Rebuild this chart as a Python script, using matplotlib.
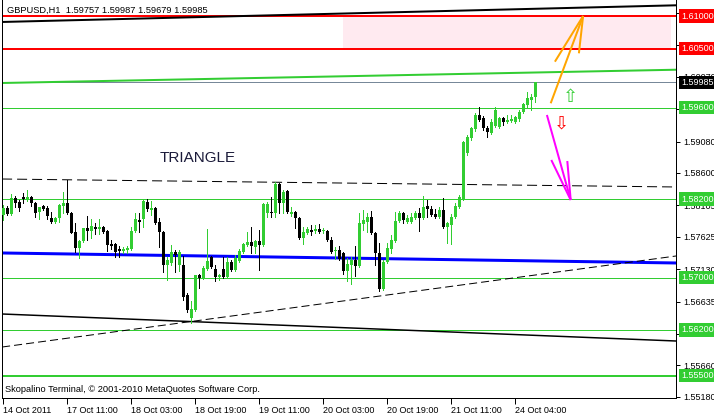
import matplotlib
matplotlib.use("Agg")  # no display in the sandbox

import matplotlib.pyplot as plt
from matplotlib.transforms import blended_transform_factory
import numpy as np

plt.rcParams["font.family"] = ["Liberation Sans", "DejaVu Sans"]
plt.rcParams["lines.scale_dashes"] = False

# GBPUSD H1 candles, oldest first (bar 0 = 14 Oct 2011 19:00)
opens = [
    1.57958, 1.58065, 1.57973, 1.58218, 1.58156, 1.58233, 1.58187, 1.58233, 1.58141, 1.58004,
    1.58095, 1.58065, 1.57912, 1.57851, 1.57912, 1.58095, 1.58141, 1.57988, 1.57698, 1.57453,
    1.57560, 1.57759, 1.57713, 1.57774, 1.57744, 1.57774, 1.57713, 1.57514, 1.57514, 1.57438,
    1.57407, 1.57423, 1.57438, 1.57713, 1.57881, 1.57896, 1.58156, 1.58034, 1.58065, 1.57851,
    1.57698, 1.57193, 1.57224, 1.57392, 1.57193, 1.57193, 1.56734, 1.56383, 1.56505, 1.57040,
    1.56994, 1.57132, 1.57315, 1.57132, 1.57010, 1.57132, 1.57010, 1.57239, 1.57117, 1.57254,
    1.57392, 1.57499, 1.57545, 1.57468, 1.57560, 1.57499, 1.57988, 1.58004, 1.57988, 1.58432,
    1.58141, 1.58325, 1.57973, 1.58004, 1.57912, 1.57606, 1.57682, 1.57728, 1.57713, 1.57744,
    1.57713, 1.57713, 1.57575, 1.57407, 1.57423, 1.57377, 1.57101, 1.57193, 1.57270, 1.57178,
    1.57820, 1.57851, 1.57927, 1.57682, 1.57377, 1.56826, 1.57239, 1.57438, 1.57560, 1.57866,
    1.57988, 1.57851, 1.57851, 1.57912, 1.57988, 1.57912, 1.58095, 1.58049, 1.57973, 1.57927,
    1.58034, 1.57774, 1.57805, 1.57927, 1.58080, 1.58202, 1.58906, 1.59135, 1.59273, 1.59487,
    1.59441, 1.59288, 1.59211, 1.59318, 1.59303, 1.59441, 1.59380, 1.59395, 1.59380, 1.59425,
    1.59533, 1.59640, 1.59716, 1.59757,
]
highs = [
    1.58111, 1.58095, 1.58279, 1.58248, 1.58187, 1.58294, 1.58340, 1.58248, 1.58156, 1.58080,
    1.58111, 1.58095, 1.58004, 1.57927, 1.58126, 1.58309, 1.58493, 1.58004, 1.57835, 1.57575,
    1.57759, 1.57942, 1.57896, 1.57835, 1.57896, 1.57789, 1.57728, 1.57575, 1.57530, 1.57484,
    1.57468, 1.57484, 1.57774, 1.57988, 1.57988, 1.58202, 1.58202, 1.58172, 1.58080, 1.57912,
    1.57713, 1.57315, 1.57499, 1.57423, 1.57423, 1.57331, 1.56765, 1.56643, 1.57040, 1.57056,
    1.57178, 1.57744, 1.57331, 1.57193, 1.57056, 1.57315, 1.57315, 1.57270, 1.57346, 1.57438,
    1.57530, 1.57698, 1.57774, 1.57575, 1.57728, 1.58141, 1.58156, 1.58233, 1.58462, 1.58447,
    1.58340, 1.58340, 1.58080, 1.58019, 1.57927, 1.57774, 1.57774, 1.57805, 1.57805, 1.57820,
    1.57759, 1.57728, 1.57621, 1.57468, 1.57484, 1.57392, 1.57300, 1.57315, 1.57484, 1.57988,
    1.58034, 1.57988, 1.58019, 1.57698, 1.57530, 1.57270, 1.57530, 1.57652, 1.58004, 1.58019,
    1.58004, 1.57958, 1.57988, 1.58019, 1.58065, 1.58248, 1.58187, 1.58095, 1.58049, 1.58080,
    1.58218, 1.57851, 1.57973, 1.58141, 1.58263, 1.59089, 1.59181, 1.59303, 1.59517, 1.59609,
    1.59471, 1.59318, 1.59425, 1.59609, 1.59456, 1.59456, 1.59487, 1.59487, 1.59471, 1.59563,
    1.59670, 1.59838, 1.59808, 1.59987,
]
lows = [
    1.57881, 1.57958, 1.57958, 1.58080, 1.58019, 1.58141, 1.58172, 1.58095, 1.57927, 1.57896,
    1.58034, 1.57896, 1.57835, 1.57835, 1.57851, 1.57988, 1.57973, 1.57682, 1.57392, 1.57300,
    1.57545, 1.57575, 1.57606, 1.57667, 1.57667, 1.57682, 1.57407, 1.57438, 1.57315, 1.57315,
    1.57377, 1.57377, 1.57423, 1.57698, 1.57698, 1.57774, 1.58019, 1.57958, 1.57820, 1.57468,
    1.57086, 1.56964, 1.57193, 1.57086, 1.57101, 1.56658, 1.56475, 1.56306, 1.56490, 1.56841,
    1.56979, 1.57117, 1.57147, 1.56949, 1.56964, 1.56994, 1.56994, 1.57101, 1.57101, 1.57239,
    1.57377, 1.57484, 1.57377, 1.57377, 1.57117, 1.57484, 1.57927, 1.57927, 1.57927, 1.57988,
    1.57988, 1.57988, 1.57942, 1.57759, 1.57591, 1.57514, 1.57667, 1.57652, 1.57682, 1.57682,
    1.57682, 1.57560, 1.57377, 1.57285, 1.57270, 1.57056, 1.56949, 1.56903, 1.57025, 1.57163,
    1.57728, 1.57698, 1.57667, 1.57193, 1.56796, 1.56811, 1.57224, 1.57377, 1.57545, 1.57851,
    1.57835, 1.57835, 1.57835, 1.57896, 1.57713, 1.57896, 1.57927, 1.57942, 1.57912, 1.57912,
    1.57759, 1.57530, 1.57514, 1.57912, 1.58065, 1.58187, 1.58875, 1.59104, 1.59242, 1.59395,
    1.59257, 1.59150, 1.59196, 1.59303, 1.59288, 1.59334, 1.59364, 1.59380, 1.59364, 1.59395,
    1.59517, 1.59609, 1.59563, 1.59679,
]
closes = [
    1.58065, 1.57973, 1.58218, 1.58141, 1.58065, 1.58202, 1.58233, 1.58141, 1.57988, 1.58080,
    1.58049, 1.57942, 1.57851, 1.57912, 1.58111, 1.58141, 1.57988, 1.57690, 1.57453, 1.57560,
    1.57759, 1.57713, 1.57789, 1.57744, 1.57774, 1.57698, 1.57499, 1.57484, 1.57392, 1.57407,
    1.57438, 1.57453, 1.57713, 1.57896, 1.57851, 1.58172, 1.58049, 1.58065, 1.57835, 1.57698,
    1.57193, 1.57270, 1.57392, 1.57346, 1.57392, 1.56704, 1.56505, 1.56520, 1.57040, 1.56994,
    1.57147, 1.57254, 1.57163, 1.57010, 1.57040, 1.57010, 1.57239, 1.57117, 1.57300, 1.57407,
    1.57514, 1.57545, 1.57484, 1.57560, 1.57499, 1.58126, 1.58126, 1.57988, 1.58432, 1.58141,
    1.58309, 1.58004, 1.58004, 1.57912, 1.57606, 1.57698, 1.57744, 1.57698, 1.57744, 1.57698,
    1.57720, 1.57575, 1.57392, 1.57423, 1.57285, 1.57101, 1.57208, 1.57270, 1.57178, 1.57835,
    1.57881, 1.57927, 1.57682, 1.57377, 1.56826, 1.57239, 1.57453, 1.57575, 1.57866, 1.57988,
    1.57881, 1.57912, 1.57927, 1.57988, 1.57912, 1.58080, 1.58049, 1.57958, 1.57927, 1.58034,
    1.57774, 1.57835, 1.57927, 1.58095, 1.58233, 1.59074, 1.59150, 1.59288, 1.59487, 1.59410,
    1.59288, 1.59227, 1.59380, 1.59563, 1.59441, 1.59380, 1.59410, 1.59425, 1.59456, 1.59533,
    1.59655, 1.59747, 1.59762, 1.59985,
]

# time axis labels (every 16 bars)
date_ticks = [0, 16, 32, 48, 64, 80, 96, 112, 128]
date_labels = ["14 Oct 2011", "17 Oct 11:00", "18 Oct 03:00", "18 Oct 19:00",
               "19 Oct 11:00", "20 Oct 03:00", "20 Oct 19:00", "21 Oct 11:00",
               "24 Oct 04:00"]

# price scale grid values
price_ticks = [1.55180, 1.55660, 1.56140, 1.56635, 1.57130, 1.57625, 1.58105,
               1.58600, 1.59080, 1.59575, 1.60070, 1.60550, 1.61045]

# horizontal levels drawn on the chart
red_levels = [1.61000, 1.60500]
green_levels = [1.59600, 1.58200, 1.57000, 1.56200]
green_level_bold = 1.55500
bid_price = 1.59985

# trend lines: (bar, bar), (price, price)
top_line = ([-0.3, 168.2], [1.60909, 1.61164])
green_channel = ([-0.3, 168.2], [1.59976, 1.60179])
triangle_upper = ([-0.3, 168.2], [1.58508, 1.58386])
blue_line = ([-0.3, 168.2], [1.57377, 1.57224])
lower_solid = ([-0.3, 168.2], [1.56444, 1.56031])
triangle_lower = ([-0.3, 168.2], [1.55939, 1.57331])

# target zone rectangle
zone_bars = (84.9, 166.9)
zone_prices = (1.60500, 1.61000)

# hand drawn arrows: shaft + two head strokes, as (bars, prices)
orange_arrow = [([136.85, 144.95], [1.59666, 1.61000]),
                ([137.9, 144.95], [1.60302, 1.61000]),
                ([143.9, 144.95], [1.60430, 1.61000])]
magenta_arrow = [([135.9, 141.85], [1.59487, 1.58187]),
                 ([137.0, 141.85], [1.58799, 1.58187]),
                 ([141.0, 141.85], [1.58783, 1.58187])]

# price labels on the right scale for each level
level_boxes = [(1.61000, "#FF0000"), (1.60500, "#FF0000"), (1.59985, "#000000"),
               (1.59600, "#32CD32"), (1.58200, "#32CD32"), (1.57000, "#32CD32"),
               (1.56200, "#32CD32"), (1.55500, "#32CD32")]

GREEN = "#32CD32"
PX = 0.72  # one pixel in points at dpi 100

fig = plt.figure(figsize=(7.14, 4.16), dpi=100)
ax = fig.add_axes([2 / 714, 18 / 416, 674 / 714, 398 / 416])
ax.set_xlim(-0.325, 168.175)
ax.set_ylim(1.551596, 1.61245)

# target zone
ax.fill_between(zone_bars, zone_prices[0], zone_prices[1], color="#FFEAF0",
                linewidth=0, zorder=0.5)

# horizontal levels
for lv in red_levels:
    ax.axhline(lv, color="#FF0000", linewidth=2 * PX, antialiased=False, zorder=1)
for lv in green_levels:
    ax.axhline(lv, color=GREEN, linewidth=PX, antialiased=False, zorder=1)
ax.axhline(green_level_bold, color=GREEN, linewidth=2 * PX, antialiased=False, zorder=1)
ax.axhline(bid_price, color="#778899", linewidth=PX, antialiased=False, zorder=1)

# trend lines
ax.plot(*top_line, color="black", linewidth=2 * PX, zorder=1)
ax.plot(*green_channel, color=GREEN, linewidth=2 * PX, zorder=1)
ax.plot(*triangle_upper, color="black", linewidth=PX, dashes=(7.2, 3.6), zorder=1)
ax.plot(*blue_line, color="#0000FF", linewidth=3 * PX, zorder=1)
ax.plot(*lower_solid, color="black", linewidth=1.5 * PX, zorder=1)
ax.plot(*triangle_lower, color="black", linewidth=PX, dashes=(5.8, 2.9), zorder=1)

# candles
o = np.array(opens)
h = np.array(highs)
l = np.array(lows)
c = np.array(closes)
idx = np.arange(len(o))
colors = np.where(c >= o, GREEN, "black")
ax.vlines(idx, l, h, colors=colors, linewidth=PX, antialiased=False, zorder=3)
body = np.maximum(np.abs(c - o), 0.00012)
ax.bar(idx, body, bottom=np.minimum(o, c), width=0.72, color=colors,
       linewidth=0, antialiased=False, zorder=3)

# arrows
for xs, ys in orange_arrow:
    ax.plot(xs, ys, color="#FFA500", linewidth=2 * PX, solid_capstyle="butt", zorder=4)
for xs, ys in magenta_arrow:
    ax.plot(xs, ys, color="#FF00FF", linewidth=2 * PX, solid_capstyle="butt", zorder=4)
ax.text(141.7, 1.59762, "\u21e7", color=GREEN, fontsize=13, family="DejaVu Sans",
        ha="center", va="center", zorder=4)
ax.text(139.5, 1.59349, "\u21e9", color="#FF0000", fontsize=13, family="DejaVu Sans",
        ha="center", va="center", zorder=4)

ax.text(39.2, 1.58768, "TRIANGLE", fontsize=11, color="#1b1b3a",
        ha="left", va="baseline", zorder=4)

# header and footer text
ax.text(5 / 674, (398 - 10) / 398, "GBPUSD,H1  1.59757 1.59987 1.59679 1.59985",
        transform=ax.transAxes, fontsize=6.7, ha="left", va="center", zorder=5)
ax.text(3 / 674, 8 / 398, "Skopalino Terminal, \u00a9 2001-2010 MetaQuotes Software Corp.",
        transform=ax.transAxes, fontsize=6.7, ha="left", va="center", zorder=5)

# axes
ax.spines["top"].set_visible(False)
for side in ("left", "right", "bottom"):
    ax.spines[side].set_linewidth(PX)
    ax.spines[side].set_color("black")

ax.yaxis.tick_right()
ax.set_yticks(price_ticks)
ax.set_yticklabels([f"{p:.5f}" for p in price_ticks])
ax.tick_params(axis="y", length=3, width=PX, pad=2, labelsize=6.5, direction="out")
ax.set_xticks(date_ticks)
ax.set_xticklabels(date_labels, ha="left")
ax.tick_params(axis="x", length=4, width=PX, pad=2, labelsize=6.5, direction="out")

# level price boxes on the scale
trans = blended_transform_factory(ax.transAxes, ax.transData)
for price, col in level_boxes:
    ax.text(1.0 + 5 / 674, price, f"{price:.5f}", transform=trans, color="white",
            fontsize=6.5, ha="left", va="center", clip_on=False, zorder=6,
            bbox=dict(boxstyle="square,pad=0.25", facecolor=col, edgecolor="none"))

fig.savefig("out.png", dpi=100)
